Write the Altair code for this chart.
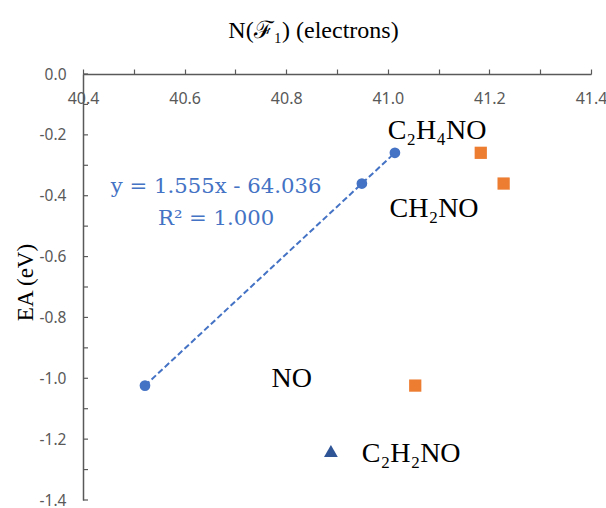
import altair as alt
import pandas as pd

# Data
circle_x = [40.522, 40.949, 41.014]
circle_y = [-1.024, -0.360, -0.259]
square_x = [41.054, 41.228, 41.183]
square_y = [-1.024, -0.360, -0.259]
triangle_x = [40.888]
triangle_y = [-1.239]

label_text = ["C\u2082H\u2084NO", "CH\u2082NO", "NO", "C\u2082H\u2082NO"]
label_x = [41.097, 41.091, 40.811, 41.046]
label_y = [-0.215, -0.470, -1.029, -1.275]

eq_text = ["y = 1.555x - 64.036", "R\u00b2 = 1.000"]
eq_x = [40.662, 40.662]
eq_y = [-0.391, -0.496]

x_ticks = [round(40.4 + 0.1 * i, 1) for i in range(11)]
y_ticks = [round(-1.4 + 0.1 * i, 1) for i in range(15)]

BLUE = "#4472C4"
ORANGE = "#ED7D31"
DARKBLUE = "#2F5597"
AXIS = "#595959"

circles = pd.DataFrame({"x": circle_x, "y": circle_y})
squares = pd.DataFrame({"x": square_x, "y": square_y})
triangles = pd.DataFrame({"x": triangle_x, "y": triangle_y})
labels = pd.DataFrame({"x": label_x, "y": label_y, "t": label_text})
eqs = pd.DataFrame({"x": eq_x, "y": eq_y, "t": eq_text})
yticks_df = pd.DataFrame({"y": y_ticks})

label_expr = ("abs(round(datum.value*10))%2==0 ? "
              "((datum.value < -0.001 ? '-' : '') + format(abs(datum.value), '.1f')) : ''")

xscale = alt.Scale(domain=[40.4, 41.4], nice=False, zero=False)
yscale = alt.Scale(domain=[-1.4, 0.0], nice=False, zero=False)

x_axis = alt.Axis(
    orient="top", values=x_ticks, labelExpr=label_expr, grid=False,
    domainColor=AXIS, domainWidth=1.5, tickColor=AXIS, tickWidth=1.2, tickSize=5,
    labelFont="Noto Sans", labelFontSize=16, labelColor=AXIS,
    labelBaseline="top", labelPadding=-21, labelFlush=False,
    title="N(\u2131\u2081) (electrons)", titleFont="Liberation Serif",
    titleFontSize=24, titleFontWeight="normal", titleColor="#000000",
    titleX=230, titleY=-37, titleBaseline="alphabetic", titleAnchor="start", titleAlign="center",
)
y_axis = alt.Axis(
    orient="left", values=y_ticks, labelExpr=label_expr, grid=False, ticks=False,
    domainColor=AXIS, domainWidth=1.5,
    labelFont="Noto Sans", labelFontSize=15.5, labelColor=AXIS, labelPadding=17,
    labelFlush=False,
    title="EA (eV)", titleFont="Liberation Serif", titleFontSize=23,
    titleFontWeight="normal", titleColor="#000000",
    titleX=-58, titleY=208, titleAngle=-90, titleAlign="center", titleBaseline="middle",
)

pts_c = alt.Chart(circles).mark_point(filled=True, shape="circle", size=115, opacity=1, color=BLUE).encode(
    x=alt.X("x:Q", scale=xscale, axis=x_axis),
    y=alt.Y("y:Q", scale=yscale, axis=y_axis),
)
trend = alt.Chart(circles).transform_regression("x", "y").mark_line(
    color=BLUE, strokeWidth=2, strokeDash=[6, 3]
).encode(x=alt.X("x:Q", scale=xscale), y=alt.Y("y:Q", scale=yscale))

pts_s = alt.Chart(squares).mark_point(filled=True, shape="square", size=150, opacity=1, color=ORANGE).encode(
    x=alt.X("x:Q", scale=xscale), y=alt.Y("y:Q", scale=yscale)
)
pts_t = alt.Chart(triangles).mark_point(filled=True, shape="triangle-up", size=190, opacity=1, color=DARKBLUE).encode(
    x=alt.X("x:Q", scale=xscale), y=alt.Y("y:Q", scale=yscale)
)
# inward-pointing y-axis ticks
ytick_marks = alt.Chart(yticks_df).mark_rule(color=AXIS, strokeWidth=1.2).encode(
    x=alt.value(0), x2=alt.value(5), y=alt.Y("y:Q", scale=yscale)
)
txt = alt.Chart(labels).mark_text(
    font="Liberation Serif", fontSize=28, color="#000000", align="center", baseline="alphabetic"
).encode(x=alt.X("x:Q", scale=xscale), y=alt.Y("y:Q", scale=yscale), text="t:N")
eq = alt.Chart(eqs).mark_text(
    font="DejaVu Serif", fontSize=21.2, color=BLUE, align="center", baseline="alphabetic"
).encode(x=alt.X("x:Q", scale=xscale), y=alt.Y("y:Q", scale=yscale), text="t:N")

chart = alt.layer(pts_c, trend, pts_s, pts_t, ytick_marks, txt, eq).properties(
    width=508, height=426,
    autosize=alt.AutoSizeParams(type="none"),
    padding={"left": 83, "top": 74, "right": 15, "bottom": 8},
    background="#ffffff",
).configure_view(stroke=None)

chart.save("out.html", embed_options={"renderer": "svg", "actions": False})
